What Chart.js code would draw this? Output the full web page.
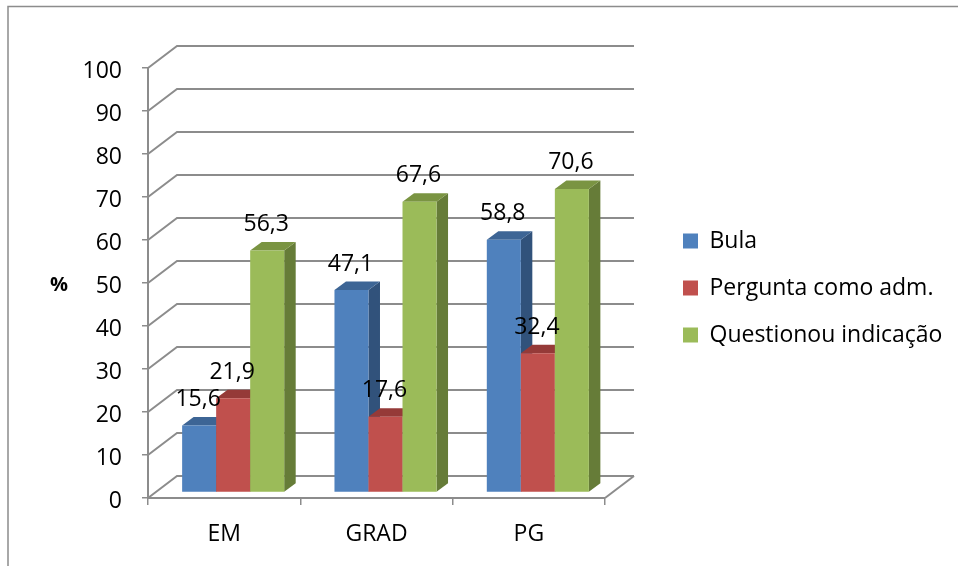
<!doctype html>
<html>

<head>
	<meta charset="utf-8">
	<title>3D column chart</title>
	<script src="https://cdn.jsdelivr.net/npm/chart.js@4/dist/chart.umd.min.js"></script>
	<style>
	html, body { margin: 0; padding: 0; background: #fff; }
	canvas { display: block; }
	</style>
</head>

<body>
	<canvas id="canvas" width="958" height="566"></canvas>
	<script>
		// values
		var categories = ['EM', 'GRAD', 'PG'];
		var seriesNames = ['Bula', 'Pergunta como adm.', 'Questionou indicação'];
		var bula = [15.6, 47.1, 58.8];
		var pergunta = [21.9, 17.6, 32.4];
		var questionou = [56.3, 67.6, 70.6];
		var yTicks = [0, 10, 20, 30, 40, 50, 60, 70, 80, 90, 100];

		var frontColors = ['#4F81BD', '#C0504D', '#9BBB59'];
		var topColors = ['#3D6595', '#953A38', '#7A9442'];
		var sideColors = ['#31527B', '#7B2F2D', '#667C38'];

		var gridColor = '#8C8C8C';
		var fontName = '"Open Sans", sans-serif';
		var fontSize = 23;

		// the wall sits behind the front axes, the bars stand a bit into the floor
		var wallDx = 29, wallDy = -22;
		var barDx = 9, barDy = -5.5;
		var depthX = 11.5, depthY = -8.5;

		function poly(ctx, color, pts) {
			ctx.fillStyle = color;
			ctx.beginPath();
			ctx.moveTo(pts[0][0], pts[0][1]);
			for (var i = 1; i < pts.length; i++) {
				ctx.lineTo(pts[i][0], pts[i][1]);
			}
			ctx.closePath();
			ctx.fill();
		}

		var frame3d = {
			id: 'frame3d',
			beforeLayout: function(chart) {
				// keep the legend column the same width whatever the font measures
				var l = chart.legend;
				if (!l.fitWrapped) {
					var fit = l.fit;
					l.fit = function() {
						fit.call(this);
						this.width = 353;
					};
					l.fitWrapped = true;
				}
			},
			afterLayout: function(chart) {
				var l = chart.legend;
				l.left += 54;
				l.right += 54;
				l.top -= 29;
				l.bottom -= 29;
			},
			beforeDraw: function(chart) {
				var ctx = chart.ctx;
				ctx.save();
				ctx.strokeStyle = gridColor;
				ctx.lineWidth = 1.5;
				ctx.beginPath();
				ctx.moveTo(8, 566);
				ctx.lineTo(8, 6.5);
				ctx.lineTo(958, 6.5);
				ctx.stroke();
				ctx.restore();
			},
			beforeDatasetsDraw: function(chart) {
				var ctx = chart.ctx, x = chart.scales.x, y = chart.scales.y;
				ctx.save();
				ctx.strokeStyle = gridColor;
				ctx.lineWidth = 2;
				yTicks.forEach(function(t) {
					var py = y.getPixelForValue(t);
					ctx.beginPath();
					ctx.moveTo(x.left, py);
					ctx.lineTo(x.left + wallDx, py + wallDy);
					ctx.lineTo(x.right + wallDx, py + wallDy);
					ctx.stroke();
				});
				// right edge of the floor
				ctx.beginPath();
				ctx.moveTo(x.right, y.bottom);
				ctx.lineTo(x.right + wallDx, y.bottom + wallDy);
				ctx.stroke();
				ctx.restore();

				// paint left to right so each bar covers the side of the one before
				chart.data.datasets.forEach(function(ds, s) {
					var meta = chart.getDatasetMeta(s);
					ctx.save();
					ctx.translate(barDx, barDy);
					meta.data.forEach(function(bar) {
						var x0 = bar.x - bar.width / 2, x1 = bar.x + bar.width / 2;
						poly(ctx, sideColors[s], [[x1, bar.y], [x1 + depthX, bar.y + depthY], [x1 + depthX, bar.base + depthY], [x1, bar.base]]);
						poly(ctx, topColors[s], [[x0, bar.y], [x0 + depthX, bar.y + depthY], [x1 + depthX, bar.y + depthY], [x1, bar.y]]);
					});
					meta.controller.draw();
					ctx.restore();
				});
			},
			beforeDatasetDraw: function() {
				return false;
			},
			afterDatasetsDraw: function(chart) {
				var ctx = chart.ctx, y = chart.scales.y;
				ctx.save();
				ctx.fillStyle = '#000';
				ctx.font = fontSize + 'px ' + fontName;
				ctx.textAlign = 'center';
				ctx.textBaseline = 'middle';
				chart.data.datasets.forEach(function(ds, s) {
					chart.getDatasetMeta(s).data.forEach(function(bar, i) {
						ctx.fillText(ds.data[i].toFixed(1).replace('.', ','), bar.x + barDx - 1, bar.y + barDy - 26);
					});
				});
				// axis name stays upright
				ctx.font = 'bold 20px ' + fontName;
				ctx.fillText('%', 59, (y.top + y.bottom) / 2 + 2);
				ctx.restore();
			}
		};

		function makeSet(i, values) {
			return {
				label: seriesNames[i],
				data: values,
				backgroundColor: frontColors[i]
			};
		}

		window.onload = function() {
			var ctx = document.getElementById('canvas').getContext('2d');
			window.myBar = new Chart(ctx, {
				type: 'bar',
				data: {
					labels: categories,
					datasets: [makeSet(0, bula), makeSet(1, pergunta), makeSet(2, questionou)]
				},
				plugins: [frame3d],
				options: {
					responsive: false,
					animation: false,
					events: [],
					categoryPercentage: 0.67,
					barPercentage: 1,
					layout: { padding: { left: 0, top: 68, right: 0, bottom: 0 } },
					scales: {
						x: {
							grid: { drawOnChartArea: false, color: gridColor, lineWidth: 1.5, tickLength: 7 },
							border: { color: gridColor, width: 2 },
							ticks: { color: '#000', font: { family: fontName, size: fontSize }, padding: 16, maxRotation: 0 },
							afterFit: function(scale) { scale.height = 68; }
						},
						y: {
							min: 0,
							max: 100,
							afterBuildTicks: function(scale) {
								scale.ticks = yTicks.map(function(t) { return { value: t }; });
							},
							grid: { drawOnChartArea: false, color: gridColor, lineWidth: 1.5, tickLength: 6 },
							border: { color: gridColor, width: 2 },
							ticks: { color: '#000', font: { family: fontName, size: fontSize }, padding: 20, labelOffset: 3.5 },
							afterFit: function(scale) { scale.width = 148; }
						}
					},
					plugins: {
						tooltip: { enabled: false },
						legend: {
							position: 'right',
							labels: {
								color: '#000',
								font: { family: fontName, size: fontSize },
								boxWidth: 15,
								boxHeight: 15,
								padding: 24
							}
						}
					}
				}
			});
		};
	</script>
</body>

</html>
